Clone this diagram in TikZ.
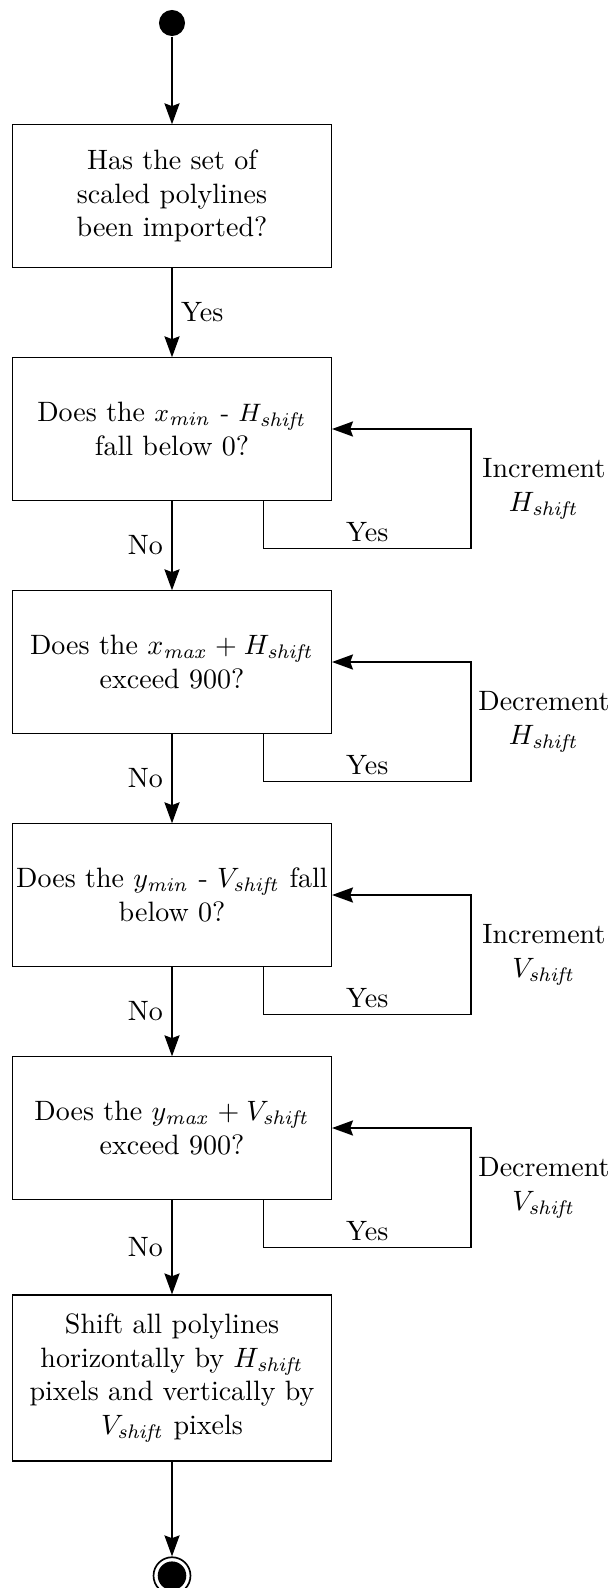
\documentclass[tikz,border=0pt]{standalone}
\usetikzlibrary{arrows.meta}
% subscript set larger than the usual script size
\newcommand\bsub[3][7.5]{\ensuremath{#2_{\mbox{\fontsize{#1}{#1}\selectfont$\mathit{#3}$}}}}
\tikzset{
  stepbox/.style={draw, line width=0.4pt, text width=109.9pt, minimum height=50.8pt,
                  align=center, inner xsep=2pt, inner ysep=2pt},
  arr/.style={line width=0.6pt, -{Stealth[length=7.5pt,width=5.4pt,inset=1pt]}},
  lbl/.style={inner sep=3pt},
  sidelbl/.style={align=center, anchor=center, xshift=26pt, inner sep=0pt},
}
\begin{document}
\begin{tikzpicture}[x=0.35714pt, y=-0.35714pt]
\useasboundingbox (0,0) rectangle (612,1588);

% start and end markers
\node[circle, fill, minimum size=9.3pt, inner sep=0pt] (start) at (172,23) {};
\node[circle, draw, line width=0.6pt, minimum size=13.2pt, inner sep=0pt] (end) at (172,1575.7) {};
\node[circle, fill, minimum size=10.2pt, inner sep=0pt] (endin) at (end.center) {};

% process boxes
\node[stepbox] (b1) at (172,196) {Has the set of\\scaled polylines\\been imported?};
\node[stepbox] (b2) at (172,429) {Does the {\fontsize{9}{11}\selectfont\bsub[7.5]{x}{min} - \bsub[7.5]{H}{shift}}\\fall below 0?};
\node[stepbox] (b3) at (172,662) {Does the $x_{\mathit{max}}+{}$\bsub{H}{shift}\\exceed 900?};
\node[stepbox] (b4) at (172,895) {\makebox[\linewidth]{Does the $y_{\mathit{min}}$ - \bsub[7.2]{V}{shift} fall}\\below 0?};
\node[stepbox] (b5) at (172,1128) {Does the $y_{\mathit{max}}+{}$\bsub{V}{shift}\\exceed 900?};
\node[stepbox, minimum height=59.3pt] (b6) at (172,1378)
  {Shift all polylines\\horizontally by $H_{\mathit{shift}}$\\pixels and vertically by\\$V_{\mathit{shift}}$ pixels};

% loop-back routing points
\coordinate (lx) at (263.4,0);
\coordinate (c2) at (471.1,548.5);
\coordinate (c3) at (471.1,781.5);
\coordinate (c4) at (471.1,1014.5);
\coordinate (c5) at (471.1,1247.5);

% main flow
\draw[arr] (start) -- (b1);
\draw[arr] (b1) -- node[lbl, right] {Yes} (b2);
\draw[arr] (b2) -- node[lbl, left] {No} (b3);
\draw[arr] (b3) -- node[lbl, left] {No} (b4);
\draw[arr] (b4) -- node[lbl, left] {No} (b5);
\draw[arr] (b5) -- node[lbl, left] {No} (b6);
\draw[arr] (b6) -- (end);

% correction loops
\draw[arr] (b2.south -| lx) |- (c2) node[pos=0.75, above, inner sep=2pt] {Yes}
  |- node[pos=0.25, sidelbl] {Increment\\$H_{\mathit{shift}}$} (b2.east);
\draw[arr] (b3.south -| lx) |- (c3) node[pos=0.75, above, inner sep=2pt] {Yes}
  |- node[pos=0.25, sidelbl] {Decrement\\$H_{\mathit{shift}}$} (b3.east);
\draw[arr] (b4.south -| lx) |- (c4) node[pos=0.75, above, inner sep=2pt] {Yes}
  |- node[pos=0.25, sidelbl] {Increment\\$V_{\mathit{shift}}$} (b4.east);
\draw[arr] (b5.south -| lx) |- (c5) node[pos=0.75, above, inner sep=2pt] {Yes}
  |- node[pos=0.25, sidelbl] {Decrement\\$V_{\mathit{shift}}$} (b5.east);
\end{tikzpicture}
\end{document}
